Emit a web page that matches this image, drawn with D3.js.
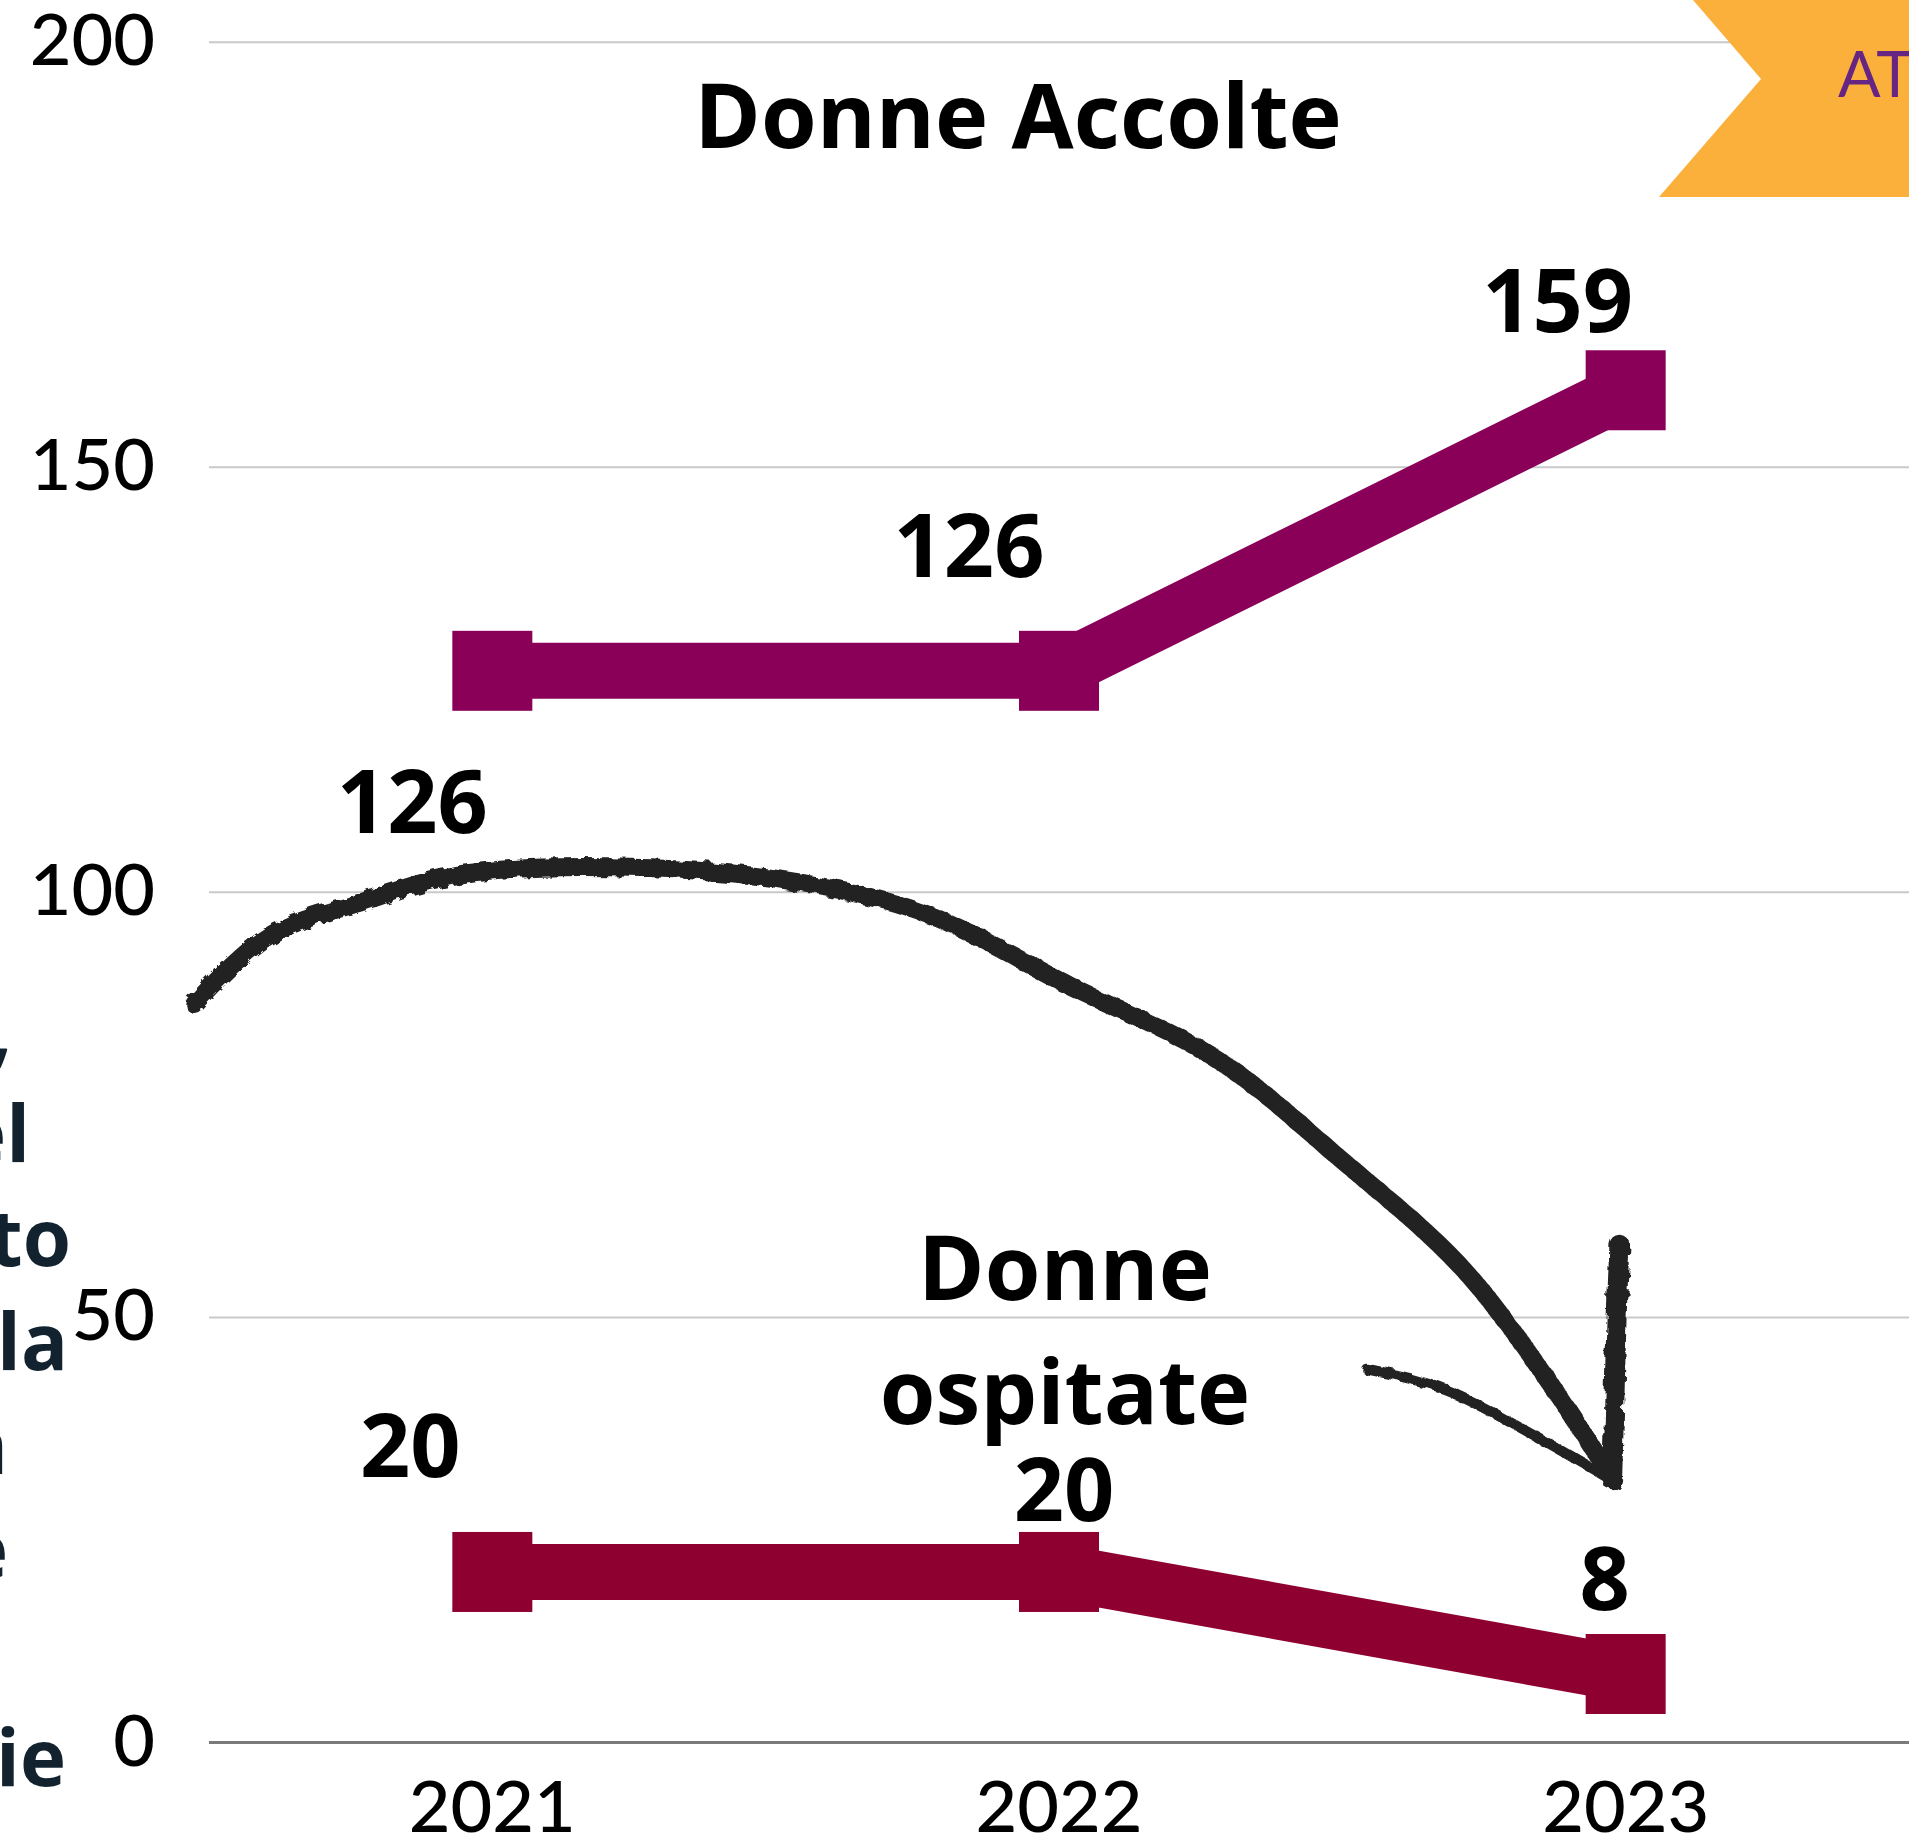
<!DOCTYPE html>
<html>
<head>
<meta charset="utf-8">
<script src="https://cdn.jsdelivr.net/npm/d3@7"></script>
<style>
  body { margin: 0; background: #fff; overflow: hidden; }
  svg { display: block; }
</style>
</head>
<body>
<script>
//Chart data
var years = ["2021", "2022", "2023"];
var accolte = [126, 126, 159];
var ospitate = [20, 20, 8];
var yTicks = [0, 50, 100, 150, 200];
var seriesNames = ["Donne Accolte", "Donne ospitate"];
var bannerText = "AT";
//tail ends of the cropped text column on the left
var sideText = [",", "el", "to", "la", "n", "e", "", "ie"];

//Page size (in pixels)
var width = 1909,
    height = 1839;

var plotLeft = 209;

//where each value label sits relative to its point
var offAccolte = [[-80, 162], [-90, -94], [-68, -58]];
var offOspitate = [[-82, -95], [5, -51], [-21, -64]];
var sideRight = [12, 30, 71, 68, 8, 8, 0, 66];

var svg = d3.select("body").append("svg")
    .attr("width", width)
    .attr("height", height);

//rough pencil look for the arrow
var defs = svg.append("defs");
var rough = defs.append("filter").attr("id", "rough")
    .attr("x", "-10%").attr("y", "-10%").attr("width", "120%").attr("height", "120%");
rough.append("feTurbulence")
    .attr("type", "fractalNoise")
    .attr("baseFrequency", 0.08)
    .attr("numOctaves", 3)
    .attr("result", "noise");
rough.append("feDisplacementMap")
    .attr("in", "SourceGraphic")
    .attr("in2", "noise")
    .attr("scale", 9);

//Scales
var x = d3.scaleBand()
    .domain(years)
    .range([plotLeft, width]);

function cx(yr) { return x(yr) + x.bandwidth() / 2; }

var y = d3.scaleLinear()
    .domain([0, 200])
    .range([1742, 41.7]);

//continuous x (year index) used for the hand drawn arrow
var xi = d3.scaleLinear()
    .domain([0, 2])
    .range([cx(years[0]), cx(years[2])]);

//Y axis with gridlines
var yAxis = svg.append("g")
    .attr("transform", "translate(" + plotLeft + ",0)")
    .call(d3.axisLeft(y)
        .tickValues(yTicks)
        .tickSize(-(width - plotLeft))
        .tickPadding(54));

yAxis.select(".domain").remove();
yAxis.selectAll(".tick line")
    .attr("stroke", function(d) { return d === 0 ? "#7a7a7a" : "#c9c9c9"; })
    .attr("stroke-width", function(d) { return d === 0 ? 3 : 2; });
yAxis.selectAll(".tick text")
    .attr("fill", "#000")
    .style("font-family", "Lato, sans-serif")
    .style("font-weight", 500)
    .style("font-size", "72px");

//X axis
var xAxis = svg.append("g")
    .attr("transform", "translate(0," + y(0) + ")")
    .call(d3.axisBottom(x).tickSize(0).tickPadding(39));

xAxis.select(".domain").remove();
xAxis.selectAll(".tick text")
    .attr("fill", "#000")
    .style("font-family", "Lato, sans-serif")
    .style("font-weight", 500)
    .style("font-size", "72px");

//Orange banner in the top right corner
svg.append("path")
    .attr("d", "M1693,0 L1761,79 L1659,197 L" + width + ",197 L" + width + ",0 Z")
    .attr("fill", "#fbb03b");

svg.append("text")
    .attr("x", 1838)
    .attr("y", 97)
    .attr("fill", "#662483")
    .style("font-family", "Lato, sans-serif")
    .style("font-size", "63px")
    .text(bannerText);

//Series lines + square markers
var line = d3.line()
    .x(function(d, i) { return cx(years[i]); })
    .y(function(d) { return y(d); });

var series = [
  { values: accolte, color: "#8a0059", off: offAccolte },
  { values: ospitate, color: "#8e0030", off: offOspitate }
];

series.forEach(function(s) {
  svg.append("path")
      .datum(s.values)
      .attr("d", line)
      .attr("fill", "none")
      .attr("stroke", s.color)
      .attr("stroke-width", 56);

  svg.selectAll(null)
      .data(s.values)
      .enter()
      .append("rect")
      .attr("x", function(d, i) { return cx(years[i]) - 40; })
      .attr("y", function(d) { return y(d) - 40; })
      .attr("width", 80)
      .attr("height", 80)
      .attr("fill", s.color);

  svg.selectAll(null)
      .data(s.values)
      .enter()
      .append("text")
      .attr("x", function(d, i) { return cx(years[i]) + s.off[i][0]; })
      .attr("y", function(d, i) { return y(d) + s.off[i][1]; })
      .attr("text-anchor", "middle")
      .style("font-family", "'Open Sans', sans-serif")
      .style("font-weight", 700)
      .style("font-size", "88px")
      .text(function(d) { return d; });
});

//Series titles
svg.append("text")
    .attr("x", 1018)
    .attr("y", 148)
    .attr("text-anchor", "middle")
    .style("font-family", "'Open Sans', sans-serif")
    .style("font-weight", 700)
    .style("font-size", "90px")
    .text(seriesNames[0]);

var t2 = svg.append("text")
    .attr("x", 1065)
    .attr("y", 1300)
    .attr("text-anchor", "middle")
    .style("font-family", "'Open Sans', sans-serif")
    .style("font-weight", 700)
    .style("font-size", "90px");
seriesNames[1].split(" ").forEach(function(w, i) {
  t2.append("tspan").attr("x", 1065).attr("dy", i ? 124 : 0).text(w);
});

//Hand drawn arrow, points given as [year index, value]
var arrowMain = [[-0.526, 86.8], [-0.397, 94.7], [-0.226, 98.9], [-0.053, 102.1],
  [0.205, 102.9], [0.505, 101.5], [0.762, 97.5], [1.02, 88.9], [1.279, 80.3],
  [1.493, 68.8], [1.708, 56.0], [1.858, 43.0], [1.976, 31.0]];
var arrowRight = [[1.989, 58.5], [1.984, 50.0], [1.98, 40.0], [1.976, 30.8]];
var arrowLeft = [[1.544, 43.8], [1.68, 41.5], [1.84, 36.0], [1.976, 30.8]];

var arrowLine = d3.line()
    .x(function(d) { return xi(d[0]); })
    .y(function(d) { return y(d[1]); })
    .curve(d3.curveCatmullRom);

var arrow = svg.append("g")
    .attr("fill", "none")
    .attr("stroke", "#222")
    .attr("stroke-linecap", "round")
    .attr("filter", "url(#rough)");

arrow.append("path").attr("d", arrowLine(arrowMain)).attr("stroke-width", 18);
arrow.append("path").attr("d", arrowLine(arrowRight)).attr("stroke-width", 20);
arrow.append("path").attr("d", arrowLine(arrowLeft)).attr("stroke-width", 10);

//Cropped text column on the left
svg.selectAll(".side")
    .data(sideText)
    .enter()
    .append("text")
    .attr("class", "side")
    .attr("x", function(d, i) { return sideRight[i]; })
    .attr("y", function(d, i) { return 1058 + i * 104; })
    .attr("text-anchor", "end")
    .attr("fill", "#12232f")
    .style("font-family", "'Open Sans', sans-serif")
    .style("font-weight", 700)
    .style("font-size", "78px")
    .text(function(d) { return d; });
</script>
</body>
</html>
